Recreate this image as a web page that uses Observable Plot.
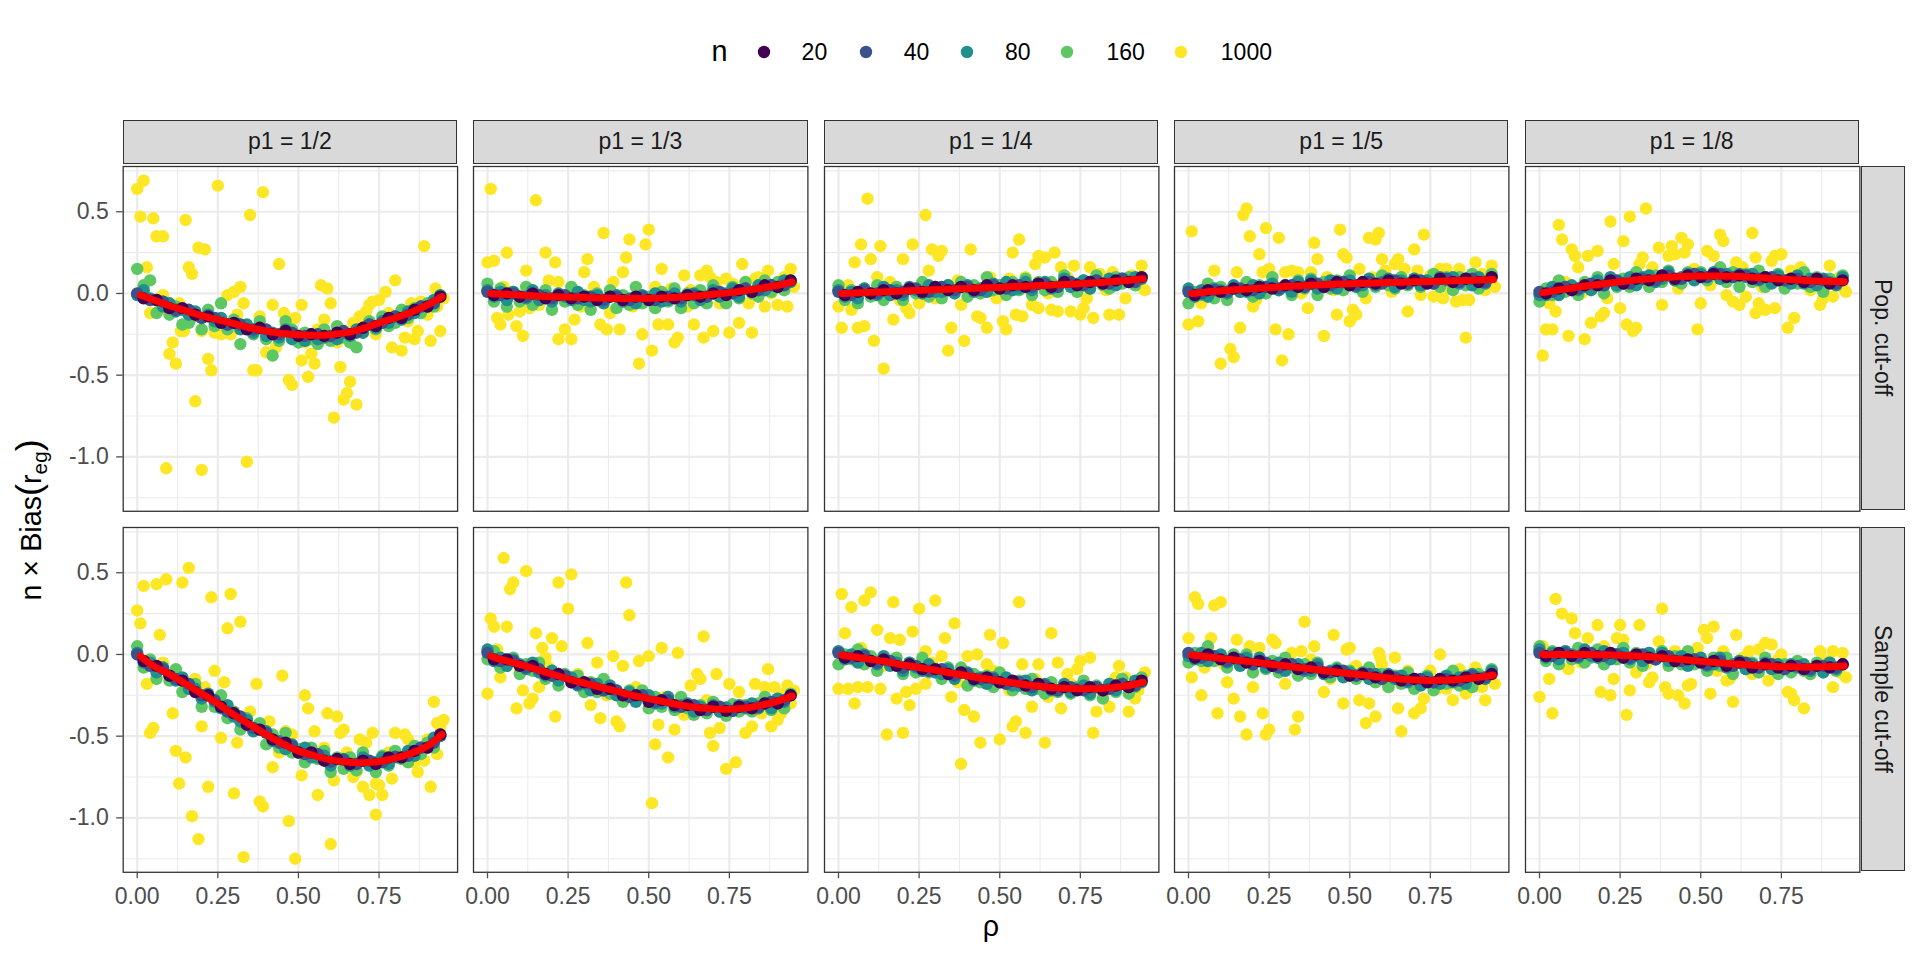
<!DOCTYPE html>
<html>
<head>
<meta charset="utf-8">
<script src="https://cdn.jsdelivr.net/npm/d3@7"></script>
<script src="https://cdn.jsdelivr.net/npm/@observablehq/plot@0.6"></script>
<style>
  html, body { margin: 0; padding: 0; background: #ffffff; }
  #chart { position: relative; width: 1920px; height: 960px; background: #ffffff;
           font-family: "Liberation Sans", Arial, Helvetica, sans-serif; overflow: hidden; }
  .strip { position: absolute; box-sizing: border-box; background: #D9D9D9; border: 1.3px solid #333333;
           color: #1A1A1A; font-size: 23px; display: flex; align-items: center; justify-content: center; }
  .vstrip { writing-mode: vertical-rl; }
</style>
</head>
<body>
<div id="chart"></div>
<script>
// ---------------- data ----------------
const nLevels = [20, 40, 80, 160, 1000];
const nColors = ["#440154", "#3B528B", "#21908C", "#5DC863", "#FDE725"];
const p1Labels = ["p1 = 1/2", "p1 = 1/3", "p1 = 1/4", "p1 = 1/5", "p1 = 1/8"];
const rowLabels = ["Pop. cut-off", "Sample cut-off"];
const xTicks = [0, 0.25, 0.5, 0.75];
const xMinor = [0.125, 0.375, 0.625, 0.875];
const yTicks = [-1, -0.5, 0, 0.5];
const yMinor = [-1.25, -0.75, -0.25, 0.25, 0.75];

const rhoLine = [0.01,0.05,0.10,0.15,0.20,0.25,0.30,0.35,0.40,0.45,0.50,0.55,0.60,0.65,0.70,0.75,0.80,0.85,0.90,0.945];
const rho48 = [0,0.02,0.04,0.06,0.08,0.10,0.12,0.14,0.16,0.18,0.20,0.22,0.24,0.26,0.28,0.30,0.32,0.34,0.36,0.38,0.40,0.42,0.44,0.46,0.48,0.50,0.52,0.54,0.56,0.58,0.60,0.62,0.64,0.66,0.68,0.70,0.72,0.74,0.76,0.78,0.80,0.82,0.84,0.86,0.88,0.90,0.92,0.94];
const rhoEven = [0,0.04,0.08,0.12,0.16,0.20,0.24,0.28,0.32,0.36,0.40,0.44,0.48,0.52,0.56,0.60,0.64,0.68,0.72,0.76,0.80,0.84,0.88,0.92];
const rhoOdd = [0.02,0.06,0.10,0.14,0.18,0.22,0.26,0.30,0.34,0.38,0.42,0.46,0.50,0.54,0.58,0.62,0.66,0.70,0.74,0.78,0.82,0.86,0.90,0.94];

// red curves (top row A1..A5, bottom row B1..B5), at rhoLine
const redA1 = [-0.01,-0.04,-0.075,-0.105,-0.135,-0.16,-0.185,-0.21,-0.23,-0.245,-0.252,-0.256,-0.252,-0.24,-0.215,-0.18,-0.15,-0.115,-0.07,-0.02];
const redA2 = [0.0,-0.005,-0.01,-0.015,-0.02,-0.022,-0.025,-0.028,-0.03,-0.03,-0.03,-0.027,-0.022,-0.015,-0.005,0.005,0.018,0.033,0.05,0.07];
const redA3 = [0.0,0.003,0.007,0.011,0.015,0.019,0.023,0.027,0.031,0.035,0.038,0.042,0.046,0.05,0.055,0.06,0.066,0.073,0.081,0.09];
const redA4 = [0.0,0.008,0.016,0.023,0.03,0.036,0.042,0.047,0.052,0.056,0.06,0.063,0.066,0.069,0.071,0.073,0.076,0.079,0.082,0.085];
const redA5 = [0.005,0.018,0.033,0.047,0.06,0.072,0.083,0.092,0.099,0.104,0.107,0.107,0.105,0.1,0.094,0.088,0.082,0.077,0.074,0.072];
const redB1 = [-0.01,-0.07,-0.12,-0.18,-0.24,-0.30,-0.37,-0.43,-0.49,-0.545,-0.59,-0.62,-0.645,-0.658,-0.662,-0.655,-0.635,-0.605,-0.56,-0.49];
const redB2 = [-0.01,-0.035,-0.06,-0.09,-0.12,-0.15,-0.175,-0.2,-0.225,-0.25,-0.27,-0.29,-0.31,-0.325,-0.333,-0.335,-0.328,-0.31,-0.285,-0.255];
const redB3 = [-0.005,-0.015,-0.03,-0.045,-0.065,-0.08,-0.097,-0.114,-0.13,-0.147,-0.162,-0.176,-0.19,-0.2,-0.207,-0.21,-0.21,-0.203,-0.19,-0.17];
const redB4 = [-0.003,-0.012,-0.024,-0.035,-0.047,-0.058,-0.07,-0.082,-0.094,-0.106,-0.117,-0.128,-0.139,-0.149,-0.156,-0.159,-0.157,-0.15,-0.14,-0.127];
const redB5 = [0.0,0.0,0.0,0.0,-0.002,-0.005,-0.01,-0.016,-0.024,-0.032,-0.041,-0.05,-0.058,-0.065,-0.071,-0.075,-0.076,-0.076,-0.074,-0.07];

// n = 160 (at rho48)
const g160_A1 = [0.15,0.05,0.08,-0.12,-0.05,-0.13,-0.08,-0.19,-0.18,-0.14,-0.22,-0.10,-0.20,-0.06,-0.22,-0.16,-0.31,-0.21,-0.25,-0.17,-0.28,-0.38,-0.29,-0.17,-0.22,-0.30,-0.24,-0.28,-0.31,-0.22,-0.29,-0.20,-0.27,-0.30,-0.33,-0.24,-0.17,-0.22,-0.14,-0.20,-0.18,-0.10,-0.15,-0.09,-0.12,-0.06,-0.08,-0.02];
const g160_A2 = [0.06,-0.05,0.03,-0.08,0.01,-0.05,0.04,-0.07,-0.04,0.02,-0.10,-0.01,-0.05,0.04,-0.07,-0.01,-0.10,0.00,-0.04,0.02,-0.09,-0.01,-0.07,0.04,-0.06,-0.02,-0.09,0.01,-0.05,0.03,-0.09,0.00,-0.06,0.02,-0.06,0.05,-0.01,-0.06,0.04,-0.03,0.07,0.00,-0.02,0.08,0.01,0.07,0.02,0.08];
const g160_A3 = [0.05,-0.04,0.02,-0.06,0.03,-0.02,0.05,-0.04,-0.01,0.04,-0.04,0.03,0.00,0.07,-0.02,0.04,-0.03,0.05,0.02,0.07,-0.02,0.05,0.00,0.10,0.02,0.05,-0.01,0.07,0.02,0.09,-0.01,0.07,0.02,0.07,0.01,0.11,0.05,0.01,0.08,0.03,0.11,0.05,0.03,0.10,0.06,0.10,0.05,0.10];
const g160_A4 = [-0.06,0.01,-0.01,0.06,-0.03,0.04,-0.04,0.04,0.01,0.07,-0.02,0.05,0.00,0.10,0.02,0.05,-0.01,0.08,0.03,0.09,-0.01,0.07,0.03,0.08,0.02,0.11,0.05,0.01,0.08,0.04,0.11,0.05,0.03,0.10,0.05,0.09,0.04,0.08,0.12,0.04,0.10,0.02,0.10,0.05,0.12,0.03,0.06,0.12];
const g160_A5 = [-0.05,0.03,-0.01,0.08,0.01,0.04,-0.01,0.07,0.03,0.10,0.00,0.09,0.04,0.09,0.04,0.13,0.08,0.04,0.11,0.07,0.14,0.08,0.06,0.13,0.09,0.13,0.08,0.12,0.16,0.07,0.13,0.04,0.12,0.07,0.14,0.04,0.07,0.12,0.03,0.09,0.06,0.13,0.04,0.10,0.01,0.09,0.06,0.11];
const g160_B1 = [0.05,-0.08,-0.03,-0.15,-0.08,-0.16,-0.09,-0.23,-0.21,-0.18,-0.32,-0.25,-0.32,-0.25,-0.39,-0.35,-0.46,-0.39,-0.45,-0.42,-0.55,-0.49,-0.57,-0.48,-0.60,-0.58,-0.66,-0.57,-0.64,-0.59,-0.72,-0.63,-0.70,-0.63,-0.71,-0.60,-0.67,-0.72,-0.62,-0.68,-0.59,-0.64,-0.66,-0.56,-0.61,-0.54,-0.57,-0.49];
const g160_B2 = [-0.03,0.02,-0.08,-0.06,-0.02,-0.12,-0.06,-0.10,-0.05,-0.15,-0.10,-0.19,-0.12,-0.17,-0.13,-0.23,-0.17,-0.23,-0.15,-0.24,-0.22,-0.29,-0.22,-0.28,-0.22,-0.33,-0.26,-0.32,-0.27,-0.34,-0.26,-0.33,-0.37,-0.31,-0.36,-0.29,-0.35,-0.375,-0.305,-0.35,-0.31,-0.35,-0.30,-0.26,-0.34,-0.27,-0.33,-0.24];
const g160_B3 = [-0.06,0.00,-0.03,0.03,-0.06,-0.01,-0.10,-0.02,-0.06,-0.02,-0.12,-0.05,-0.11,-0.02,-0.11,-0.09,-0.15,-0.08,-0.14,-0.08,-0.19,-0.12,-0.17,-0.13,-0.20,-0.11,-0.18,-0.22,-0.16,-0.21,-0.15,-0.21,-0.24,-0.17,-0.23,-0.19,-0.24,-0.20,-0.16,-0.25,-0.19,-0.27,-0.18,-0.23,-0.15,-0.24,-0.20,-0.14];
const g160_B4 = [-0.05,0.01,-0.04,0.05,-0.04,-0.01,-0.08,0.00,-0.06,0.00,-0.11,-0.03,-0.09,-0.04,-0.11,-0.02,-0.08,-0.13,-0.06,-0.12,-0.05,-0.12,-0.14,-0.08,-0.13,-0.10,-0.15,-0.12,-0.08,-0.17,-0.12,-0.20,-0.13,-0.18,-0.11,-0.21,-0.18,-0.13,-0.22,-0.15,-0.18,-0.10,-0.19,-0.13,-0.20,-0.12,-0.14,-0.09];
const g160_B5 = [0.05,-0.04,0.02,-0.06,0.02,-0.03,0.04,-0.05,-0.02,0.03,-0.06,0.01,-0.03,0.04,-0.05,0.01,-0.07,0.01,-0.03,0.02,-0.07,-0.01,-0.06,0.02,-0.06,-0.03,-0.10,-0.02,-0.07,-0.02,-0.12,-0.04,-0.09,-0.05,-0.11,-0.02,-0.08,-0.12,-0.06,-0.11,-0.04,-0.10,-0.12,-0.05,-0.10,-0.05,-0.10,-0.06];

// n = 80 (at rho48)
const t80_A1 = [-0.01,0.02,-0.03,-0.04,-0.08,-0.06,-0.11,-0.10,-0.13,-0.11,-0.15,-0.13,-0.17,-0.15,-0.19,-0.18,-0.22,-0.19,-0.24,-0.21,-0.26,-0.24,-0.27,-0.22,-0.28,-0.26,-0.29,-0.25,-0.28,-0.27,-0.26,-0.28,-0.24,-0.26,-0.22,-0.24,-0.19,-0.21,-0.17,-0.18,-0.14,-0.16,-0.11,-0.12,-0.08,-0.08,-0.04,-0.01];
const t80_A2 = [0.02,-0.02,0.01,-0.04,0.01,-0.02,-0.03,0.02,-0.04,-0.01,-0.05,0.00,-0.02,-0.04,0.01,-0.04,-0.05,-0.01,-0.06,-0.02,-0.01,-0.05,-0.03,-0.06,-0.01,-0.04,0.00,-0.05,-0.04,0.00,-0.05,-0.01,0.00,-0.04,-0.02,0.02,-0.02,0.00,0.03,-0.02,0.03,0.01,0.05,0.02,0.05,0.04,0.08,0.07];
const t80_A3 = [0.02,-0.02,0.01,-0.03,0.03,0.00,-0.01,0.04,-0.01,0.02,-0.01,0.04,0.02,0.00,0.05,0.01,0.01,0.05,0.00,0.04,0.05,0.01,0.03,0.01,0.06,0.03,0.07,0.02,0.03,0.07,0.02,0.06,0.07,0.03,0.04,0.09,0.04,0.06,0.08,0.03,0.08,0.06,0.09,0.05,0.09,0.07,0.10,0.09];
const t80_A4 = [0.03,-0.02,0.02,-0.02,0.03,0.02,0.00,0.05,0.01,0.01,0.05,0.00,0.04,0.06,0.02,0.04,0.01,0.07,0.04,0.08,0.03,0.04,0.08,0.03,0.07,0.08,0.04,0.05,0.09,0.05,0.07,0.09,0.04,0.08,0.06,0.09,0.05,0.08,0.06,0.10,0.08,0.10,0.06,0.09,0.05,0.10,0.06,0.10];
const t80_A5 = [-0.01,-0.01,0.04,-0.01,0.04,0.05,0.02,0.04,0.02,0.08,0.05,0.10,0.05,0.06,0.10,0.05,0.10,0.11,0.07,0.09,0.13,0.08,0.10,0.12,0.08,0.12,0.10,0.13,0.09,0.12,0.10,0.12,0.10,0.12,0.08,0.10,0.06,0.11,0.08,0.06,0.11,0.06,0.09,0.05,0.09,0.07,0.05,0.10];
const t80_B1 = [0.01,-0.05,-0.05,-0.11,-0.08,-0.13,-0.16,-0.14,-0.21,-0.21,-0.27,-0.24,-0.29,-0.33,-0.31,-0.38,-0.41,-0.40,-0.47,-0.46,-0.47,-0.53,-0.53,-0.58,-0.55,-0.60,-0.57,-0.63,-0.63,-0.62,-0.68,-0.64,-0.64,-0.68,-0.67,-0.63,-0.68,-0.66,-0.63,-0.67,-0.63,-0.63,-0.59,-0.62,-0.57,-0.57,-0.51,-0.50];
const t80_B2 = [0.03,-0.04,-0.02,-0.07,-0.03,-0.06,-0.09,-0.05,-0.11,-0.13,-0.10,-0.16,-0.13,-0.14,-0.19,-0.18,-0.22,-0.18,-0.22,-0.19,-0.25,-0.25,-0.23,-0.29,-0.25,-0.25,-0.30,-0.30,-0.26,-0.32,-0.31,-0.30,-0.35,-0.32,-0.34,-0.31,-0.35,-0.325,-0.345,-0.31,-0.33,-0.30,-0.33,-0.30,-0.33,-0.27,-0.29,-0.25];
const t80_B3 = [0.02,-0.03,0.00,-0.05,0.00,-0.04,-0.06,-0.01,-0.07,-0.05,-0.10,-0.05,-0.08,-0.10,-0.06,-0.11,-0.12,-0.09,-0.15,-0.11,-0.11,-0.16,-0.14,-0.18,-0.14,-0.17,-0.14,-0.19,-0.19,-0.16,-0.22,-0.18,-0.18,-0.22,-0.22,-0.18,-0.23,-0.21,-0.19,-0.24,-0.20,-0.22,-0.18,-0.22,-0.18,-0.20,-0.16,-0.17];
const t80_B4 = [-0.01,-0.03,0.01,-0.04,-0.01,0.00,-0.05,-0.03,-0.07,-0.02,-0.06,-0.02,-0.08,-0.07,-0.05,-0.10,-0.06,-0.06,-0.10,-0.10,-0.06,-0.12,-0.10,-0.09,-0.14,-0.11,-0.13,-0.11,-0.15,-0.12,-0.15,-0.12,-0.15,-0.13,-0.17,-0.15,-0.19,-0.14,-0.17,-0.18,-0.13,-0.17,-0.14,-0.18,-0.12,-0.14,-0.15,-0.10];
const t80_B5 = [0.03,-0.02,0.01,-0.03,0.02,0.00,-0.02,0.03,-0.01,-0.02,0.02,-0.03,0.00,0.01,-0.03,-0.01,-0.04,0.01,-0.03,0.01,-0.04,-0.04,-0.01,-0.07,-0.03,-0.02,-0.07,-0.06,-0.02,-0.08,-0.06,-0.04,-0.09,-0.06,-0.08,-0.05,-0.09,-0.06,-0.09,-0.06,-0.08,-0.06,-0.10,-0.07,-0.11,-0.05,-0.09,-0.06];

// n = 40 (at rhoEven)
const b40_A1 = [0.00,-0.04,-0.05,-0.10,-0.10,-0.15,-0.15,-0.19,-0.19,-0.22,-0.22,-0.25,-0.24,-0.26,-0.25,-0.26,-0.23,-0.24,-0.19,-0.18,-0.14,-0.13,-0.08,-0.06];
const b40_A2 = [0.01,-0.01,0.00,-0.02,-0.01,-0.03,-0.01,-0.03,-0.02,-0.04,-0.02,-0.04,-0.02,-0.04,-0.02,-0.03,-0.01,-0.02,0.01,0.00,0.03,0.02,0.05,0.05];
const b40_A3 = [0.01,-0.01,0.02,0.00,0.02,0.01,0.03,0.01,0.04,0.02,0.04,0.02,0.05,0.03,0.05,0.04,0.06,0.04,0.07,0.05,0.08,0.06,0.09,0.07];
const b40_A4 = [0.01,0.00,0.02,0.01,0.03,0.02,0.04,0.03,0.05,0.04,0.06,0.05,0.07,0.05,0.07,0.06,0.08,0.06,0.08,0.06,0.09,0.07,0.09,0.07];
const b40_A5 = [0.01,0.01,0.04,0.03,0.06,0.05,0.08,0.06,0.09,0.08,0.11,0.09,0.12,0.10,0.12,0.10,0.11,0.09,0.10,0.08,0.09,0.07,0.08,0.06];
const b40_B1 = [0.00,-0.07,-0.09,-0.15,-0.18,-0.25,-0.28,-0.35,-0.38,-0.45,-0.48,-0.54,-0.56,-0.61,-0.61,-0.655,-0.645,-0.67,-0.65,-0.66,-0.625,-0.62,-0.57,-0.54];
const b40_B2 = [0.01,-0.04,-0.04,-0.08,-0.09,-0.13,-0.13,-0.18,-0.18,-0.22,-0.22,-0.26,-0.25,-0.29,-0.28,-0.32,-0.31,-0.34,-0.32,-0.345,-0.32,-0.32,-0.29,-0.28];
const b40_B3 = [0.01,-0.02,-0.01,-0.05,-0.04,-0.08,-0.07,-0.10,-0.09,-0.13,-0.12,-0.15,-0.15,-0.18,-0.17,-0.20,-0.19,-0.22,-0.20,-0.22,-0.20,-0.21,-0.18,-0.19];
const b40_B4 = [0.01,-0.02,-0.01,-0.04,-0.03,-0.06,-0.05,-0.08,-0.06,-0.09,-0.08,-0.11,-0.10,-0.13,-0.12,-0.15,-0.14,-0.16,-0.15,-0.17,-0.15,-0.16,-0.13,-0.14];
const b40_B5 = [0.01,-0.01,0.01,-0.01,0.01,-0.01,0.00,-0.02,0.00,-0.03,-0.01,-0.04,-0.03,-0.06,-0.04,-0.07,-0.05,-0.08,-0.06,-0.09,-0.07,-0.09,-0.07,-0.08];

// n = 20 (at rhoOdd)
const p20_A1 = [-0.03,-0.04,-0.09,-0.09,-0.13,-0.14,-0.18,-0.18,-0.22,-0.21,-0.25,-0.23,-0.26,-0.25,-0.26,-0.24,-0.25,-0.21,-0.20,-0.15,-0.15,-0.10,-0.08,-0.02];
const p20_A2 = [-0.01,0.00,-0.02,0.00,-0.03,-0.01,-0.03,-0.02,-0.04,-0.02,-0.04,-0.02,-0.04,-0.02,-0.03,-0.01,-0.02,0.00,-0.01,0.02,0.01,0.05,0.04,0.08];
const p20_A3 = [-0.01,0.01,0.00,0.02,0.00,0.03,0.01,0.04,0.02,0.04,0.02,0.05,0.03,0.05,0.04,0.06,0.04,0.07,0.05,0.07,0.06,0.08,0.07,0.10];
const p20_A4 = [-0.01,0.02,0.01,0.03,0.02,0.04,0.03,0.05,0.04,0.06,0.04,0.07,0.05,0.07,0.06,0.08,0.06,0.08,0.06,0.09,0.07,0.09,0.07,0.10];
const p20_A5 = [0.00,0.03,0.02,0.05,0.05,0.08,0.06,0.09,0.08,0.11,0.09,0.11,0.10,0.12,0.10,0.11,0.09,0.10,0.08,0.09,0.07,0.09,0.06,0.08];
const p20_B1 = [-0.04,-0.07,-0.13,-0.16,-0.23,-0.25,-0.32,-0.36,-0.43,-0.46,-0.52,-0.54,-0.60,-0.60,-0.65,-0.64,-0.67,-0.65,-0.67,-0.63,-0.63,-0.59,-0.57,-0.49];
const p20_B2 = [-0.03,-0.03,-0.07,-0.07,-0.12,-0.12,-0.17,-0.17,-0.21,-0.21,-0.25,-0.25,-0.29,-0.28,-0.31,-0.31,-0.34,-0.32,-0.345,-0.32,-0.33,-0.30,-0.30,-0.25];
const p20_B3 = [-0.02,-0.01,-0.04,-0.03,-0.07,-0.06,-0.09,-0.09,-0.12,-0.11,-0.15,-0.14,-0.17,-0.16,-0.19,-0.18,-0.21,-0.20,-0.22,-0.20,-0.22,-0.19,-0.20,-0.16];
const p20_B4 = [-0.02,0.00,-0.03,-0.02,-0.05,-0.04,-0.07,-0.06,-0.09,-0.08,-0.11,-0.10,-0.13,-0.12,-0.14,-0.13,-0.16,-0.15,-0.17,-0.15,-0.16,-0.14,-0.15,-0.12];
const p20_B5 = [-0.01,0.01,-0.01,0.01,-0.01,0.01,-0.02,0.00,-0.02,-0.01,-0.04,-0.03,-0.05,-0.04,-0.07,-0.05,-0.08,-0.06,-0.08,-0.07,-0.09,-0.07,-0.08,-0.06];

// n = 1000: [rho, value] pairs
const y1000_A1 = [[0,0.64],[0.02,0.69],[0.01,0.47],[0.05,0.46],[0.06,0.35],[0.08,0.35],[0.03,0.16],[0.04,-0.12],[0.08,-0.01],[0.09,-1.07],[0.11,-0.30],[0.10,-0.37],[0.12,-0.43],[0.15,0.45],[0.16,0.16],[0.17,0.12],[0.135,-0.23],[0.145,-0.23],[0.19,0.28],[0.21,0.27],[0.18,-0.66],[0.20,-1.08],[0.20,-0.23],[0.22,-0.40],[0.23,-0.47],[0.25,0.66],[0.26,-0.25],[0.28,-0.01],[0.30,0.01],[0.32,0.04],[0.33,-0.06],[0.34,-1.03],[0.35,0.48],[0.36,-0.47],[0.37,-0.47],[0.38,-0.14],[0.39,0.62],[0.40,-0.36],[0.42,-0.07],[0.44,0.18],[0.44,-0.26],[0.455,-0.12],[0.47,-0.53],[0.48,-0.56],[0.49,-0.15],[0.51,-0.07],[0.51,-0.41],[0.53,-0.51],[0.54,-0.37],[0.55,-0.43],[0.57,0.05],[0.59,0.03],[0.58,-0.16],[0.60,-0.06],[0.61,-0.76],[0.63,-0.45],[0.64,-0.65],[0.65,-0.61],[0.66,-0.54],[0.68,-0.68],[0.69,-0.14],[0.71,-0.11],[0.72,-0.07],[0.73,-0.05],[0.75,-0.04],[0.77,0.01],[0.80,0.08],[0.79,-0.33],[0.82,-0.35],[0.83,-0.27],[0.85,-0.06],[0.86,-0.28],[0.87,-0.23],[0.89,0.29],[0.91,-0.29],[0.925,0.03],[0.94,-0.23],[0.95,-0.03],[0.07,-0.10],[0.13,-0.06],[0.24,-0.24],[0.29,-0.25],[0.31,-0.13],[0.43,-0.33],[0.46,-0.19],[0.52,-0.30],[0.56,-0.22],[0.62,-0.30],[0.67,-0.18],[0.74,-0.25],[0.78,-0.12],[0.84,-0.17],[0.88,-0.05],[0.90,-0.13],[0.93,-0.08]];
const y1000_A2 = [[0.01,0.64],[0.15,0.57],[0,0.19],[0.02,0.20],[0.06,0.25],[0.12,0.14],[0.18,0.25],[0.21,0.19],[0.31,0.21],[0.30,0.13],[0.36,0.37],[0.44,0.33],[0.49,0.30],[0.50,0.39],[0.43,0.22],[0.42,0.13],[0.39,0.07],[0.54,0.15],[0.61,0.11],[0.66,0.11],[0.68,0.14],[0.69,0.10],[0.74,0.09],[0.79,0.18],[0.83,0.09],[0.87,0.14],[0.94,0.15],[0.90,-0.07],[0.93,-0.08],[0.86,-0.08],[0.81,-0.06],[0.78,-0.18],[0.82,-0.24],[0.75,-0.24],[0.70,-0.23],[0.67,-0.27],[0.64,-0.19],[0.59,-0.27],[0.58,-0.30],[0.56,-0.19],[0.53,-0.19],[0.51,-0.35],[0.47,-0.43],[0.48,-0.25],[0.41,-0.22],[0.37,-0.22],[0.35,-0.19],[0.38,-0.12],[0.26,-0.28],[0.22,-0.28],[0.24,-0.22],[0.27,-0.16],[0.11,-0.26],[0.09,-0.20],[0.04,-0.19],[0.03,-0.15],[0.065,-0.13],[0.10,-0.11],[0.13,-0.09],[0.19,0.08],[0.22,0.07],[0.57,0.03],[0.63,0.02],[0.71,0.07],[0.76,0.06],[0.84,0.10],[0.05,0.04],[0.16,-0.07],[0.29,-0.08],[0.33,0.04],[0.45,-0.08],[0.52,0.04],[0.62,-0.08],[0.72,-0.06],[0.80,0.07],[0.88,0.00],[0.92,0.10],[0.95,0.04]];
const y1000_A3 = [[0.09,0.58],[0.27,0.48],[0.07,0.30],[0.13,0.29],[0.05,0.19],[0.10,0.21],[0.20,0.21],[0.23,0.30],[0.29,0.27],[0.32,0.26],[0.31,0.23],[0.28,0.14],[0.41,0.27],[0.56,0.33],[0.54,0.25],[0.61,0.18],[0.62,0.23],[0.64,0.22],[0.67,0.25],[0.69,0.16],[0.73,0.17],[0.78,0.16],[0.85,0.13],[0.94,0.17],[0.89,-0.03],[0.95,0.02],[0.84,-0.13],[0.87,-0.13],[0.79,-0.15],[0.75,-0.13],[0.72,-0.11],[0.76,-0.09],[0.77,-0.03],[0.68,-0.11],[0.66,-0.10],[0.62,-0.09],[0.60,-0.07],[0.57,-0.14],[0.55,-0.13],[0.52,-0.22],[0.51,-0.17],[0.46,-0.21],[0.44,-0.15],[0.43,-0.14],[0.39,-0.29],[0.35,-0.21],[0.34,-0.35],[0.38,-0.07],[0.25,-0.06],[0.22,-0.12],[0.21,-0.09],[0.17,-0.16],[0.14,-0.46],[0.11,-0.29],[0.08,-0.20],[0.06,-0.21],[0.01,-0.21],[0.04,-0.10],[0,-0.08],[0.12,0.10],[0.58,0.10],[0.47,0.10],[0.03,0.05],[0.16,0.07],[0.19,-0.04],[0.30,-0.03],[0.37,0.08],[0.49,-0.03],[0.53,0.09],[0.65,0.00],[0.71,0.10],[0.81,0.12],[0.83,0.02],[0.91,0.11],[0.93,0.05]];
const y1000_A4 = [[0.01,0.38],[0.18,0.52],[0.17,0.48],[0.19,0.35],[0.24,0.40],[0.28,0.34],[0.22,0.24],[0.08,0.14],[0.15,0.13],[0.23,0.13],[0.25,0.15],[0.30,0.13],[0.32,0.14],[0.34,0.13],[0.38,0.13],[0.39,0.31],[0.40,0.21],[0.47,0.39],[0.48,0.24],[0.49,0.22],[0.53,0.15],[0.56,0.34],[0.58,0.33],[0.59,0.37],[0.60,0.21],[0.61,0.14],[0.64,0.18],[0.65,0.21],[0.67,0.15],[0.70,0.27],[0.73,0.36],[0.71,0.14],[0.78,0.15],[0.80,0.15],[0.84,0.15],[0.89,0.19],[0.94,0.17],[0.95,0.04],[0.87,-0.04],[0.85,-0.04],[0.83,-0.05],[0.86,-0.27],[0.79,-0.03],[0.76,-0.02],[0.72,-0.01],[0.68,-0.11],[0.55,-0.03],[0.51,-0.10],[0.52,-0.13],[0.50,-0.17],[0.46,-0.13],[0.42,-0.26],[0.37,-0.09],[0.31,-0.25],[0.27,-0.22],[0.29,-0.41],[0.20,-0.08],[0.21,-0.04],[0.16,-0.21],[0.13,-0.34],[0.14,-0.39],[0.10,-0.43],[0.04,-0.06],[0,-0.19],[0.03,-0.17],[0.06,0.06],[0.12,-0.03],[0.26,0.08],[0.35,0.00],[0.43,0.10],[0.45,0.02],[0.57,0.10],[0.63,0.01],[0.75,0.11],[0.81,0.03],[0.91,0.12],[0.92,0.02]];
const y1000_A5 = [[0.06,0.42],[0.07,0.33],[0.10,0.27],[0.11,0.23],[0.15,0.23],[0.18,0.26],[0.12,0.16],[0.22,0.44],[0.28,0.47],[0.33,0.52],[0.26,0.32],[0.23,0.18],[0.31,0.18],[0.32,0.22],[0.37,0.28],[0.41,0.29],[0.44,0.34],[0.46,0.30],[0.45,0.25],[0.40,0.23],[0.42,0.24],[0.52,0.26],[0.54,0.23],[0.56,0.36],[0.57,0.32],[0.61,0.19],[0.66,0.37],[0.67,0.22],[0.72,0.20],[0.73,0.23],[0.75,0.24],[0.81,0.16],[0.90,0.17],[0.95,0.01],[0.91,-0.02],[0.87,-0.07],[0.88,-0.03],[0.79,-0.15],[0.77,-0.21],[0.73,-0.09],[0.70,-0.10],[0.67,-0.12],[0.68,-0.06],[0.64,-0.02],[0.62,-0.07],[0.60,-0.05],[0.58,-0.01],[0.49,-0.22],[0.50,-0.06],[0.38,-0.07],[0.30,-0.21],[0.29,-0.23],[0.27,-0.19],[0.25,-0.09],[0.21,-0.03],[0.19,-0.14],[0.16,-0.18],[0.20,-0.12],[0.14,-0.28],[0.09,-0.26],[0.05,-0.11],[0.04,-0.22],[0.02,-0.22],[0.03,-0.06],[0.01,-0.38],[0.08,0.07],[0.13,0.00],[0.35,0.16],[0.43,0.03],[0.48,0.15],[0.53,0.05],[0.63,0.16],[0.69,0.04],[0.78,0.14],[0.84,0.02],[0.93,0.10],[0.94,0.04]];
const y1000_B1 = [[0,0.27],[0.01,0.19],[0.02,0.42],[0.06,0.43],[0.09,0.46],[0.14,0.44],[0.16,0.53],[0.07,0.12],[0.23,0.35],[0.29,0.37],[0.28,0.16],[0.32,0.20],[0.24,-0.10],[0.27,-0.17],[0.37,-0.18],[0.45,-0.13],[0.52,-0.25],[0.53,-0.33],[0.59,-0.36],[0.62,-0.38],[0.55,-0.47],[0.63,-0.48],[0.64,-0.46],[0.69,-0.52],[0.73,-0.48],[0.71,-0.54],[0.80,-0.48],[0.83,-0.49],[0.84,-0.52],[0.92,-0.29],[0.93,-0.42],[0.95,-0.40],[0.93,-0.61],[0.91,-0.81],[0.89,-0.65],[0.87,-0.72],[0.79,-0.76],[0.75,-0.80],[0.74,-0.79],[0.76,-0.86],[0.72,-0.86],[0.70,-0.81],[0.74,-0.98],[0.67,-0.75],[0.61,-0.77],[0.60,-1.16],[0.56,-0.86],[0.51,-0.74],[0.49,-1.25],[0.47,-1.02],[0.48,-0.49],[0.46,-0.47],[0.42,-0.69],[0.38,-0.90],[0.39,-0.93],[0.33,-1.24],[0.30,-0.85],[0.31,-0.54],[0.26,-0.51],[0.22,-0.81],[0.20,-0.44],[0.19,-1.13],[0.17,-0.99],[0.15,-0.63],[0.13,-0.79],[0.12,-0.59],[0.11,-0.36],[0.05,-0.45],[0.04,-0.48],[0.03,-0.18],[0.08,-0.05],[0.18,-0.15],[0.21,-0.20],[0.35,-0.35],[0.41,-0.41],[0.44,-0.60],[0.58,-0.57],[0.65,-0.60],[0.68,-0.72],[0.78,-0.60],[0.86,-0.66],[0.90,-0.52],[0.94,-0.44]];
const y1000_B2 = [[0.05,0.59],[0.12,0.51],[0.08,0.44],[0.07,0.40],[0.22,0.44],[0.26,0.49],[0.25,0.28],[0.43,0.44],[0.44,0.24],[0.01,0.22],[0.02,0.17],[0.06,0.17],[0.15,0.13],[0.20,0.10],[0.23,0.05],[0.17,0.04],[0.18,-0.02],[0.31,0.07],[0.34,-0.05],[0.39,-0.01],[0.42,-0.07],[0.47,-0.04],[0.50,-0.01],[0.54,0.04],[0.59,0.01],[0.67,0.11],[0.65,-0.12],[0.66,-0.15],[0.71,-0.12],[0.63,-0.19],[0.75,-0.18],[0.78,-0.23],[0.87,-0.09],[0.83,-0.18],[0.86,-0.20],[0.89,-0.20],[0.93,-0.19],[0,-0.24],[0.04,-0.14],[0.09,-0.33],[0.13,-0.30],[0.14,-0.27],[0.11,-0.22],[0.16,-0.20],[0.21,-0.38],[0.35,-0.39],[0.40,-0.41],[0.41,-0.44],[0.53,-0.43],[0.58,-0.46],[0.52,-0.55],[0.56,-0.63],[0.51,-0.91],[0.69,-0.48],[0.70,-0.56],[0.74,-0.70],[0.77,-0.66],[0.72,-0.45],[0.80,-0.48],[0.82,-0.44],[0.88,-0.44],[0.90,-0.40],[0.91,-0.36],[0.93,-0.30],[0.94,-0.30],[0.32,-0.31],[0.03,0.03],[0.10,-0.10],[0.19,-0.08],[0.28,-0.12],[0.37,-0.25],[0.46,-0.20],[0.55,-0.26],[0.61,-0.37],[0.68,-0.28],[0.79,-0.31],[0.85,-0.36],[0.92,-0.24],[0.95,-0.22]];
const y1000_B3 = [[0.01,0.37],[0.04,0.29],[0.08,0.33],[0.10,0.38],[0.17,0.32],[0.25,0.28],[0.30,0.33],[0.56,0.32],[0.02,0.13],[0.12,0.15],[0.16,0.10],[0.19,0.09],[0.23,0.14],[0.36,0.19],[0.33,0.10],[0.27,0.02],[0.32,-0.01],[0.40,-0.01],[0.43,0.00],[0.47,0.12],[0.51,0.07],[0.46,-0.06],[0.66,0.13],[0.57,-0.06],[0.62,-0.06],[0.68,-0.05],[0.75,-0.04],[0.78,-0.02],[0.74,-0.09],[0.71,-0.12],[0.87,-0.07],[0.95,-0.11],[0.86,-0.14],[0.61,-0.15],[0.27,-0.18],[0.24,-0.21],[0,-0.21],[0.03,-0.21],[0.06,-0.20],[0.09,-0.20],[0.13,-0.21],[0.05,-0.30],[0.18,-0.27],[0.22,-0.31],[0.21,-0.23],[0.35,-0.26],[0.39,-0.34],[0.42,-0.38],[0.15,-0.49],[0.20,-0.48],[0.38,-0.67],[0.44,-0.54],[0.50,-0.52],[0.54,-0.44],[0.55,-0.41],[0.58,-0.48],[0.64,-0.54],[0.69,-0.33],[0.79,-0.48],[0.80,-0.35],[0.84,-0.32],[0.90,-0.35],[0.92,-0.27],[0.60,-0.32],[0.07,0.04],[0.14,-0.07],[0.29,-0.05],[0.37,-0.17],[0.48,-0.10],[0.53,-0.22],[0.65,-0.26],[0.72,-0.18],[0.82,-0.25],[0.89,-0.14],[0.93,-0.22]];
const y1000_B4 = [[0.02,0.35],[0.03,0.31],[0.08,0.30],[0.10,0.32],[0,0.10],[0.07,0.10],[0.15,0.09],[0.19,0.05],[0.22,0.04],[0.26,0.09],[0.27,0.07],[0.36,0.20],[0.45,0.12],[0.39,0.05],[0.32,0.01],[0.35,0.02],[0.49,0.03],[0.50,0.04],[0.59,0.01],[0.64,-0.02],[0.78,0.00],[0.89,-0.08],[0.94,-0.10],[0.01,-0.14],[0.05,-0.08],[0.04,-0.25],[0.12,-0.17],[0.14,-0.27],[0.20,-0.20],[0.09,-0.36],[0.16,-0.38],[0.23,-0.36],[0.18,-0.49],[0.24,-0.49],[0.25,-0.46],[0.33,-0.46],[0.34,-0.38],[0.30,-0.18],[0.42,-0.23],[0.48,-0.30],[0.53,-0.28],[0.56,-0.30],[0.58,-0.38],[0.55,-0.42],[0.65,-0.33],[0.66,-0.47],[0.70,-0.36],[0.72,-0.33],[0.73,-0.27],[0.75,-0.10],[0.77,-0.21],[0.82,-0.28],[0.86,-0.24],[0.92,-0.28],[0.91,-0.20],[0.595,-0.02],[0.60,-0.06],[0.06,0.03],[0.11,-0.06],[0.28,-0.10],[0.38,-0.03],[0.44,-0.15],[0.52,-0.07],[0.62,-0.20],[0.68,-0.10],[0.80,-0.21],[0.84,-0.09],[0.95,-0.18]];
const y1000_B5 = [[0.05,0.34],[0.07,0.25],[0.10,0.22],[0.11,0.13],[0.15,0.10],[0.18,0.18],[0.25,0.18],[0.31,0.18],[0.38,0.28],[0.24,0.10],[0.26,0.09],[0.37,0.08],[0.51,0.15],[0.54,0.17],[0.52,0.10],[0.61,0.12],[0.49,0.04],[0.57,0.02],[0.70,0.07],[0.72,0.06],[0.65,0.02],[0.68,0.03],[0.75,0.00],[0.87,0.02],[0.91,0.02],[0.94,0.01],[0.95,-0.14],[0.91,-0.20],[0.82,-0.33],[0.79,-0.28],[0.78,-0.24],[0.77,-0.23],[0.71,-0.16],[0.60,-0.29],[0.58,-0.16],[0.59,-0.15],[0.53,-0.24],[0.47,-0.18],[0.46,-0.19],[0.45,-0.30],[0.43,-0.25],[0.40,-0.24],[0.39,-0.20],[0.34,-0.17],[0.35,-0.14],[0.27,-0.37],[0.28,-0.22],[0.30,-0.11],[0.22,-0.25],[0.19,-0.23],[0.23,-0.15],[0.09,-0.09],[0.03,-0.15],[0,-0.26],[0.04,-0.36],[0.01,0.05],[0.13,-0.05],[0.20,0.05],[0.33,-0.06],[0.42,0.02],[0.55,-0.10],[0.63,-0.02],[0.66,-0.12],[0.74,-0.03],[0.84,-0.12],[0.89,-0.04],[0.93,-0.11]];

// ---------------- assembly ----------------
const panelData = [
  [redA1, y1000_A1, g160_A1, t80_A1, b40_A1, p20_A1],
  [redA2, y1000_A2, g160_A2, t80_A2, b40_A2, p20_A2],
  [redA3, y1000_A3, g160_A3, t80_A3, b40_A3, p20_A3],
  [redA4, y1000_A4, g160_A4, t80_A4, b40_A4, p20_A4],
  [redA5, y1000_A5, g160_A5, t80_A5, b40_A5, p20_A5],
  [redB1, y1000_B1, g160_B1, t80_B1, b40_B1, p20_B1],
  [redB2, y1000_B2, g160_B2, t80_B2, b40_B2, p20_B2],
  [redB3, y1000_B3, g160_B3, t80_B3, b40_B3, p20_B3],
  [redB4, y1000_B4, g160_B4, t80_B4, b40_B4, p20_B4],
  [redB5, y1000_B5, g160_B5, t80_B5, b40_B5, p20_B5]
];

// ---------------- layout ----------------
const chart = document.getElementById("chart");
const colLeft = [122.7, 473.15, 823.6, 1174.05, 1524.5];
const rowTop = [165.7, 526.7];
const PW = 334.4, PH = 344.8;
const xDomain = [-0.0434, 0.9935];
const yDomain = [-1.333, 0.777];
const FONT = "'Liberation Sans', Arial, Helvetica, sans-serif";
const DOT_R = 6.2;

function place(el, left, top) {
  el.style.position = "absolute";
  el.style.left = left + "px";
  el.style.top = top + "px";
  chart.appendChild(el);
  return el;
}

panelData.forEach((pd, k) => {
  const row = Math.floor(k / 5), col = k % 5;
  const [red, yel, g, t, b, p] = pd;
  const pts = [
    ...yel.map(([r, v]) => ({rho: r, v, n: 1000})),
    ...g.map((v, i) => ({rho: rho48[i], v, n: 160})),
    ...t.map((v, i) => ({rho: rho48[i], v, n: 80})),
    ...b.map((v, i) => ({rho: rhoEven[i], v, n: 40})),
    ...p.map((v, i) => ({rho: rhoOdd[i], v, n: 20}))
  ].filter(d => d.rho !== undefined && d.v !== undefined);
  const line = red.map((v, i) => ({rho: rhoLine[i], v}));

  const m = 3;
  const mL = col === 0 ? colLeft[0] : m;
  const mB = row === 1 ? 52 : m;
  const width = mL + PW + m;
  const height = m + PH + mB;

  const marks = [
    Plot.gridX(xMinor, {stroke: "#EBEBEB", strokeWidth: 1.1, strokeOpacity: 1}),
    Plot.gridY(yMinor, {stroke: "#EBEBEB", strokeWidth: 1.1, strokeOpacity: 1}),
    Plot.gridX(xTicks, {stroke: "#EBEBEB", strokeWidth: 2.2, strokeOpacity: 1}),
    Plot.gridY(yTicks, {stroke: "#EBEBEB", strokeWidth: 2.2, strokeOpacity: 1}),
    Plot.dot(pts, {x: "rho", y: "v", fill: "n", r: DOT_R}),
    Plot.line(line, {x: "rho", y: "v", stroke: "#FF0000", strokeWidth: 7, curve: "catmull-rom"}),
    Plot.frame({stroke: "#333333", strokeWidth: 1.3})
  ];
  if (col === 0) {
    marks.push(Plot.axisY({ticks: yTicks, tickSize: 6.5, tickPadding: 8, tickFormat: d => d.toFixed(1),
      fontSize: 23, color: "#4D4D4D", strokeWidth: 1.3, label: null}));
  }
  if (row === 1) {
    marks.push(Plot.axisX({ticks: xTicks, tickSize: 6.5, tickPadding: 9, tickFormat: d => d.toFixed(2),
      fontSize: 23, color: "#4D4D4D", strokeWidth: 1.3, label: null}));
  }

  const svg = Plot.plot({
    width, height,
    marginLeft: mL, marginRight: m, marginTop: m, marginBottom: mB,
    x: {domain: xDomain, axis: null},
    y: {domain: yDomain, axis: null},
    color: {type: "ordinal", domain: nLevels, range: nColors},
    style: {background: "transparent", fontFamily: FONT, overflow: "visible"},
    marks
  });
  const wrap = document.createElement("div");
  wrap.style.width = width + "px";
  wrap.style.height = height + "px";
  wrap.appendChild(svg);
  place(wrap, col === 0 ? 0 : colLeft[col] - m, rowTop[row] - m);
});

// column strips
p1Labels.forEach((lab, c) => {
  const d = document.createElement("div");
  d.className = "strip";
  d.style.width = PW + "px";
  d.style.height = "44.5px";
  d.textContent = lab;
  place(d, colLeft[c], 119.5);
});
// row strips
rowLabels.forEach((lab, r) => {
  const d = document.createElement("div");
  d.className = "strip vstrip";
  d.style.width = "43.5px";
  d.style.height = PH + "px";
  d.textContent = lab;
  place(d, 1861, rowTop[r]);
});

// axis titles
const xt = document.createElement("div");
xt.textContent = "ρ";
xt.style.fontSize = "28.75px";
xt.style.color = "#000";
xt.style.transform = "translate(-50%, -50%)";
place(xt, 991, 926);

const yt = document.createElement("div");
yt.innerHTML = 'n × Bias<span style="font-size:1.25em">(</span>r<sub style="font-size:0.72em;vertical-align:-0.3em">eg</sub><span style="font-size:1.25em">)</span>';
yt.style.fontSize = "28.75px";
yt.style.whiteSpace = "nowrap";
yt.style.color = "#000";
yt.style.lineHeight = "1";
yt.style.transform = "translate(-50%, -50%) rotate(-90deg)";
place(yt, 31, 520);

// legend
const lt = document.createElement("div");
lt.textContent = "n";
lt.style.fontSize = "28.75px";
lt.style.lineHeight = "1";
lt.style.transform = "translateY(-55%)";
place(lt, 711.5, 52.5);
const legDotX = [763.7, 865.7, 967, 1067, 1181];
const legTextX = [801.6, 903.7, 1005, 1106.5, 1220.8];
nLevels.forEach((n, i) => {
  const s = document.createElementNS("http://www.w3.org/2000/svg", "svg");
  s.setAttribute("width", 16); s.setAttribute("height", 16);
  const c = document.createElementNS("http://www.w3.org/2000/svg", "circle");
  c.setAttribute("cx", 8); c.setAttribute("cy", 8); c.setAttribute("r", 6.2);
  c.setAttribute("fill", nColors[i]);
  s.appendChild(c);
  place(s, legDotX[i] - 8, 52.3 - 8);
  const tx = document.createElement("div");
  tx.textContent = String(n);
  tx.style.fontSize = "23px";
  tx.style.lineHeight = "1";
  tx.style.transform = "translateY(-50%)";
  place(tx, legTextX[i], 52.3);
});
</script>
</body>
</html>
